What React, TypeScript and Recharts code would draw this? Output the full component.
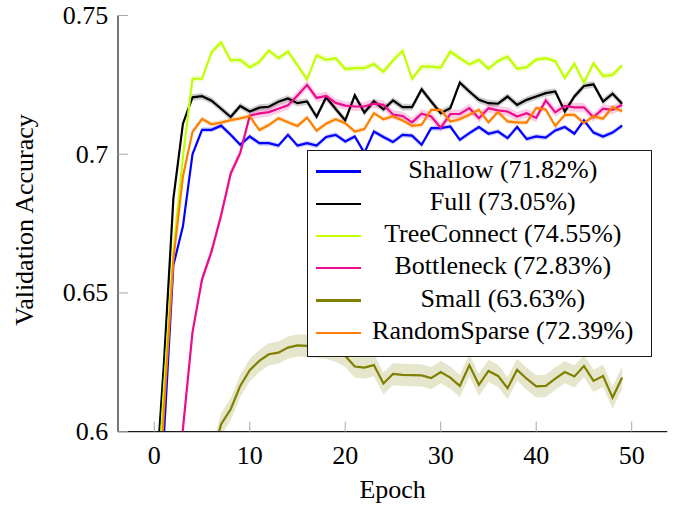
import React from 'react';
import { ComposedChart, Line, Area, XAxis, YAxis } from 'recharts';

const epochs = [0,1,2,3,4,5,6,7,8,9,10,11,12,13,14,15,16,17,18,19,20,21,22,23,24,25,26,27,28,29,30,31,32,33,34,35,36,37,38,39,40,41,42,43,44,45,46,47,48,49];

const shallow = [0.53,0.598,0.660,0.674,0.700,0.7088,0.7088,0.7103,0.7070,0.7034,
  0.7064,0.7040,0.7040,0.7031,0.7070,0.7031,0.7040,0.7031,0.7062,0.7070,
  0.7046,0.7064,0.7005,0.7082,0.7062,0.7044,0.7070,0.7067,0.7034,0.7094,
  0.7094,0.7100,0.7052,0.7076,0.7098,0.7074,0.7082,0.7058,0.7098,0.7055,
  0.7064,0.7060,0.7086,0.7098,0.7074,0.7122,0.7078,0.7064,0.7078,0.7103];

const full = [0.573,0.624,0.684,0.711,0.7205,0.7209,0.7193,0.7164,0.7134,0.7174,
  0.7154,0.7168,0.7171,0.7189,0.7201,0.7184,0.7190,0.7135,0.7205,0.7163,
  0.7122,0.7212,0.7150,0.7191,0.7162,0.7194,0.7170,0.7170,0.7234,0.7190,
  0.7148,0.7166,0.7258,0.7226,0.7196,0.7184,0.7182,0.7208,0.7178,0.7196,
  0.7208,0.7220,0.7226,0.7154,0.7208,0.7246,0.7252,0.7190,0.7218,0.7182];

const treeConnect = [0.560,0.615,0.665,0.699,0.7272,0.7272,0.7368,0.7403,0.7338,0.7340,
  0.7313,0.7333,0.7374,0.7346,0.7370,0.7320,0.7270,0.7357,0.7340,0.7346,
  0.7307,0.7310,0.7310,0.7325,0.7297,0.7338,0.7372,0.7272,0.7316,0.7316,
  0.7312,0.7370,0.7346,0.7324,0.7340,0.7308,0.7336,0.7352,0.7308,0.7314,
  0.7341,0.7346,0.7335,0.7275,0.7326,0.7258,0.7328,0.7282,0.7286,0.7320];

const bottleneck = [0.500,0.530,0.565,0.601,0.6358,0.6549,0.6650,0.6780,0.6930,0.7005,
  0.7139,0.7147,0.7152,0.7164,0.7176,0.7212,0.7250,0.7203,0.7210,0.7185,
  0.7175,0.7172,0.7172,0.7182,0.7178,0.7143,0.7138,0.7115,0.7146,0.7136,
  0.7096,0.7145,0.7145,0.7166,0.7130,0.7166,0.7158,0.7154,0.7136,0.7148,
  0.7131,0.7194,0.7151,0.7174,0.7169,0.7169,0.7133,0.7164,0.7160,0.7178];

const small = [0.450,0.500,0.530,0.550,0.565,0.578,0.590,0.6027,0.6081,0.6165,
  0.6222,0.6255,0.6279,0.6285,0.6303,0.6311,0.6309,0.6306,0.6302,0.6292,
  0.6273,0.6235,0.6231,0.6240,0.6174,0.6208,0.6205,0.6204,0.6203,0.6193,
  0.6215,0.6195,0.6165,0.6239,0.6169,0.6219,0.6201,0.6157,0.6223,0.6191,
  0.6163,0.6165,0.6191,0.6215,0.6199,0.6237,0.6183,0.6201,0.6123,0.6195];

const randomSparse = [0.540,0.607,0.662,0.692,0.708,0.7127,0.7108,0.7114,0.7123,0.7129,
  0.7137,0.7087,0.7105,0.7130,0.7115,0.7102,0.7132,0.7085,0.7110,0.7126,
  0.7112,0.7082,0.7091,0.7148,0.7126,0.7137,0.7122,0.7102,0.7106,0.7160,
  0.7160,0.7118,0.7126,0.7142,0.7160,0.7115,0.7152,0.7118,0.7115,0.7114,
  0.7167,0.7161,0.7102,0.7142,0.7142,0.7112,0.7137,0.7128,0.7170,0.7155];

const seriesKeys = ['shallow', 'full', 'treeConnect', 'bottleneck', 'small', 'randomSparse'];
const seriesLabels = ['Shallow (71.82%)', 'Full (73.05%)', 'TreeConnect (74.55%)', 'Bottleneck (72.83%)', 'Small (63.63%)', 'RandomSparse (72.39%)'];
const seriesValues = [shallow, full, treeConnect, bottleneck, small, randomSparse];
const seriesSpread = [0.0009, 0.0012, 0.0012, 0.0016, 0.0040, 0.0009];
const seriesColors = ['#0000ff', '#000000', '#bfff00', '#ec0b8c', '#808000', '#ff8000'];

const xTicks = [0, 10, 20, 30, 40, 50];
const yTicks = [0.6, 0.65, 0.7, 0.75];
const yTickLabels = ['0.6', '0.65', '0.7', '0.75'];

const FONT = '"Liberation Serif", "Times New Roman", Times, serif';
const TICK_COLOR = '#a8a8a8';
const FRAME = '#1a1a1a';

const data = epochs.map((e, i) => {
  const row: any = { epoch: e };
  seriesKeys.forEach((k, s) => {
    const v = seriesValues[s][i];
    row[k] = v;
    row[k + 'Band'] = [v - seriesSpread[s], v + seriesSpread[s]];
  });
  return row;
});

const BottomTick = (props: any) => {
  const { x, y, payload } = props;
  return (
    <g>
      <line x1={x} x2={x} y1={y} y2={y - 10} stroke={TICK_COLOR} strokeWidth={1} />
      <text x={x} y={y + 32.5} textAnchor="middle" fontFamily={FONT} fontSize={26} fill="#000">
        {payload.value}
      </text>
    </g>
  );
};

const LeftTick = (props: any) => {
  const { x, y, payload } = props;
  const idx = yTicks.indexOf(payload.value);
  return (
    <g>
      <line x1={x} x2={x + 10} y1={y} y2={y} stroke={TICK_COLOR} strokeWidth={1} />
      <text x={x - 9.7} y={y + 8.5} textAnchor="end" fontFamily={FONT} fontSize={26} fill="#000">
        {idx >= 0 ? yTickLabels[idx] : String(payload.value)}
      </text>
    </g>
  );
};

const XTitle = (props: any) => {
  const vb = props.viewBox || { x: 118, y: 431.7, width: 549.3, height: 74.3 };
  return (
    <text x={vb.x + vb.width / 2} y={vb.y + 66.5} textAnchor="middle" fontFamily={FONT} fontSize={26} fill="#000">
      Epoch
    </text>
  );
};

const YTitle = (props: any) => {
  const vb = props.viewBox || { x: 0, y: 15.5, width: 118, height: 416.2 };
  const cx = vb.x + 33;
  const cy = vb.y + vb.height / 2 - 3.6;
  return (
    <text x={cx} y={cy} transform={`rotate(-90 ${cx} ${cy})`} textAnchor="middle" fontFamily={FONT} fontSize={26} fill="#000">
      Validation Accuracy
    </text>
  );
};

export default function App() {
  return (
    <div style={{ position: 'absolute', left: 0, top: 0, width: 678, height: 506, background: '#fff' }}>
      <ComposedChart width={678} height={506} data={data} margin={{ top: 15.5, right: 10.7, bottom: 0, left: 0 }}>
        <XAxis
          xAxisId="b"
          dataKey="epoch"
          type="number"
          domain={[-3.8, 53.73]}
          allowDataOverflow
          ticks={xTicks}
          interval={0}
          height={74.3}
          tickSize={0}
          tickMargin={0}
          tickLine={false}
          axisLine={{ stroke: FRAME, strokeWidth: 1.2 }}
          tick={<BottomTick />}
          label={<XTitle />}
        />
        <XAxis
          xAxisId="t"
          orientation="top"
          dataKey="epoch"
          type="number"
          domain={[-3.8, 53.73]}
          allowDataOverflow
          ticks={xTicks}
          interval={0}
          height={0}
          mirror
          tickSize={10}
          tick={false}
          tickLine={{ stroke: TICK_COLOR, strokeWidth: 1 }}
          axisLine={{ stroke: FRAME, strokeWidth: 1.2 }}
        />
        <YAxis
          yAxisId="l"
          type="number"
          domain={[0.6, 0.75]}
          allowDataOverflow
          ticks={yTicks}
          interval={0}
          width={118}
          tickSize={0}
          tickMargin={0}
          tickLine={false}
          axisLine={{ stroke: FRAME, strokeWidth: 1.2 }}
          tick={<LeftTick />}
          label={<YTitle />}
        />
        <YAxis
          yAxisId="r"
          orientation="right"
          type="number"
          domain={[0.6, 0.75]}
          allowDataOverflow
          ticks={yTicks}
          interval={0}
          width={0}
          mirror
          tickSize={10}
          tick={false}
          tickLine={{ stroke: TICK_COLOR, strokeWidth: 1 }}
          axisLine={{ stroke: FRAME, strokeWidth: 1.2 }}
        />
        {seriesKeys.map((k, s) => (
          <Area
            key={k + 'Band'}
            xAxisId="b"
            yAxisId="l"
            type="linear"
            dataKey={k + 'Band'}
            stroke="none"
            fill={seriesColors[s]}
            fillOpacity={0.2}
            isAnimationActive={false}
            activeDot={false}
          />
        ))}
        {seriesKeys.map((k, s) => (
          <Line
            key={k}
            xAxisId="b"
            yAxisId="l"
            type="linear"
            dataKey={k}
            stroke={seriesColors[s]}
            strokeWidth={2.2}
            dot={false}
            activeDot={false}
            isAnimationActive={false}
          />
        ))}
      </ComposedChart>
      <div
        style={{
          position: 'absolute',
          left: 307.3,
          top: 150,
          width: 344.4,
          height: 206.7,
          boxSizing: 'border-box',
          border: `1.2px solid ${FRAME}`,
          background: '#fff',
          paddingTop: 2.5,
        }}
      >
        {seriesLabels.map((label, i) => (
          <div key={label} style={{ position: 'relative', height: 32.26 }}>
            <div style={{ position: 'absolute', left: 8.2, top: 16.9, width: 45, height: 2.2, background: seriesColors[i] }} />
            <div
              style={{
                position: 'absolute',
                left: 58,
                top: 0,
                width: 273,
                height: 32.26,
                lineHeight: '32.26px',
                textAlign: 'center',
                fontFamily: FONT,
                fontSize: 26,
                color: '#000',
                whiteSpace: 'nowrap',
              }}
            >
              {label}
            </div>
          </div>
        ))}
      </div>
    </div>
  );
}
